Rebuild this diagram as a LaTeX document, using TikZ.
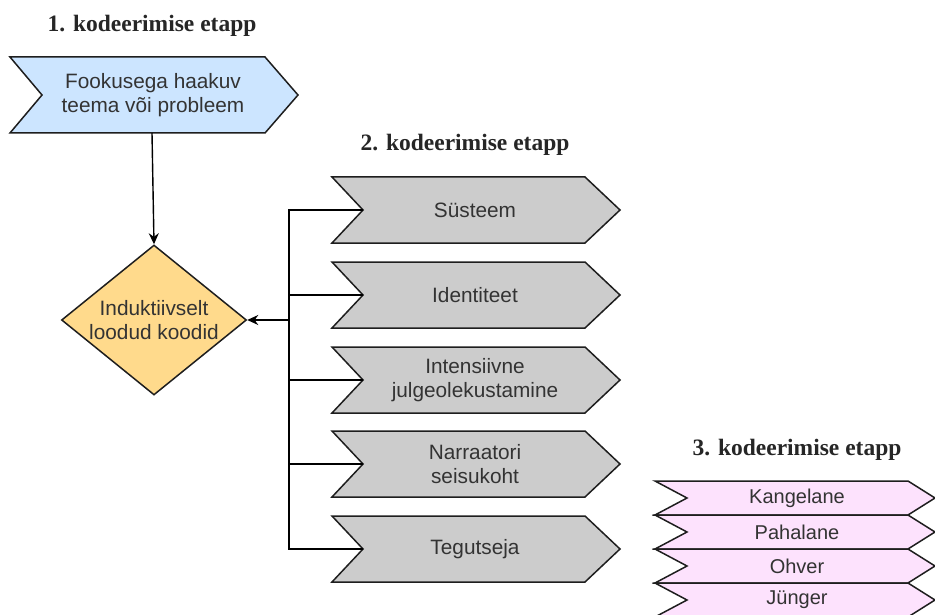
\documentclass[tikz,border=0pt]{standalone}
\usepackage{fontspec}
\setmainfont{Liberation Sans}
\newfontfamily\titlefont{Liberation Serif}
\usetikzlibrary{shapes.geometric,arrows.meta}
\definecolor{cblue}{RGB}{204,229,255}
\definecolor{cgray}{RGB}{204,204,204}
\definecolor{cyel}{RGB}{255,218,140}
\definecolor{cpink}{RGB}{253,226,253}
\definecolor{ctext}{RGB}{51,51,51}
\definecolor{cline}{RGB}{30,30,30}
\begin{document}
\begin{tikzpicture}[x=1pt,y=-1pt,
  chev/.style={draw=cline,line width=1.5pt,line join=miter},
  lbl/.style={font=\fontsize{20.8}{23.5}\selectfont,text=ctext,align=center,inner sep=0pt},
  plbl/.style={font=\fontsize{20}{22}\selectfont,text=ctext,align=center,inner sep=0pt},
  ttl/.style={font=\titlefont\bfseries\fontsize{23.5}{28}\selectfont,text=black!85,anchor=base,inner sep=0pt},
  conn/.style={draw=black,line width=1.4pt},
  arr/.style={conn,-{Stealth[length=11pt,width=10pt]}}]
\useasboundingbox (0,0) rectangle (935,615);
\fill[white] (0,0) rectangle (935,615);

% titles
\node[ttl] (t1) at (152,32) {1. kodeerimise etapp};
\node[ttl] (t2) at (465,151) {2. kodeerimise etapp};
\node[ttl] (t3) at (797,455) {3. kodeerimise etapp};

% blue chevron
\draw[chev,fill=cblue] (10,57) -- (265,57) -- (298,95) -- (265,133) -- (10,133) -- (42,95) -- cycle;
\node[lbl] (focus) at (153,95) {Fookusega haakuv\\teema või probleem};
\coordinate (focusS) at (152,133);

% diamond
\node[diamond,draw=cline,line width=1.5pt,fill=cyel,aspect=1.23,inner sep=0pt,
  minimum width=185pt,minimum height=150pt,
  font=\fontsize{20.8}{23.5}\selectfont,text=ctext,align=center] (ind) at (154,320)
  {Induktiivselt\\loodud koodid};

% gray chevrons
\foreach \y/\n/\t in {177/s1/Süsteem,262/s2/Identiteet,347/s3/{Intensiivne\\julgeolekustamine},431/s4/{Narraatori\\seisukoht},516/s5/Tegutseja}{
  \draw[chev,fill=cgray] (332,\y) -- (585,\y) -- (620,\y+33) -- (585,\y+66) -- (332,\y+66) -- (363,\y+33) -- cycle;
  \node[lbl] (\n) at (475,\y+33) {\t};
  \coordinate (\n-in) at (363,\y+33);
}

% pink stacked chevrons
\foreach \y/\n/\t in {481/p1/Kangelane,515/p2/Pahalane,549/p3/Ohver,583/p4/Jünger}{
  \draw[chev,fill=cpink] (655,\y) -- (908,\y) -- (935,\y+17) -- (908,\y+34) -- (655,\y+34) -- (687,\y+17) -- cycle;
  \node[plbl] (\n) at (797,\y+17) {\t};
}

% connectors
\coordinate (trunkTop) at (289,210);
\coordinate (trunkBot) at (289,549);
\coordinate (trunkMid) at (289,320);
\draw[conn] (s1-in) -- (trunkTop) -- (trunkBot) -- (s5-in);
\draw[conn] (s2-in) -- (s2-in -| trunkTop);
\draw[conn] (s3-in) -- (s3-in -| trunkTop);
\draw[conn] (s4-in) -- (s4-in -| trunkTop);
\draw[arr] (trunkMid) -- (ind.east);
\draw[arr] (focusS) -- (ind.north);
\end{tikzpicture}
\end{document}
